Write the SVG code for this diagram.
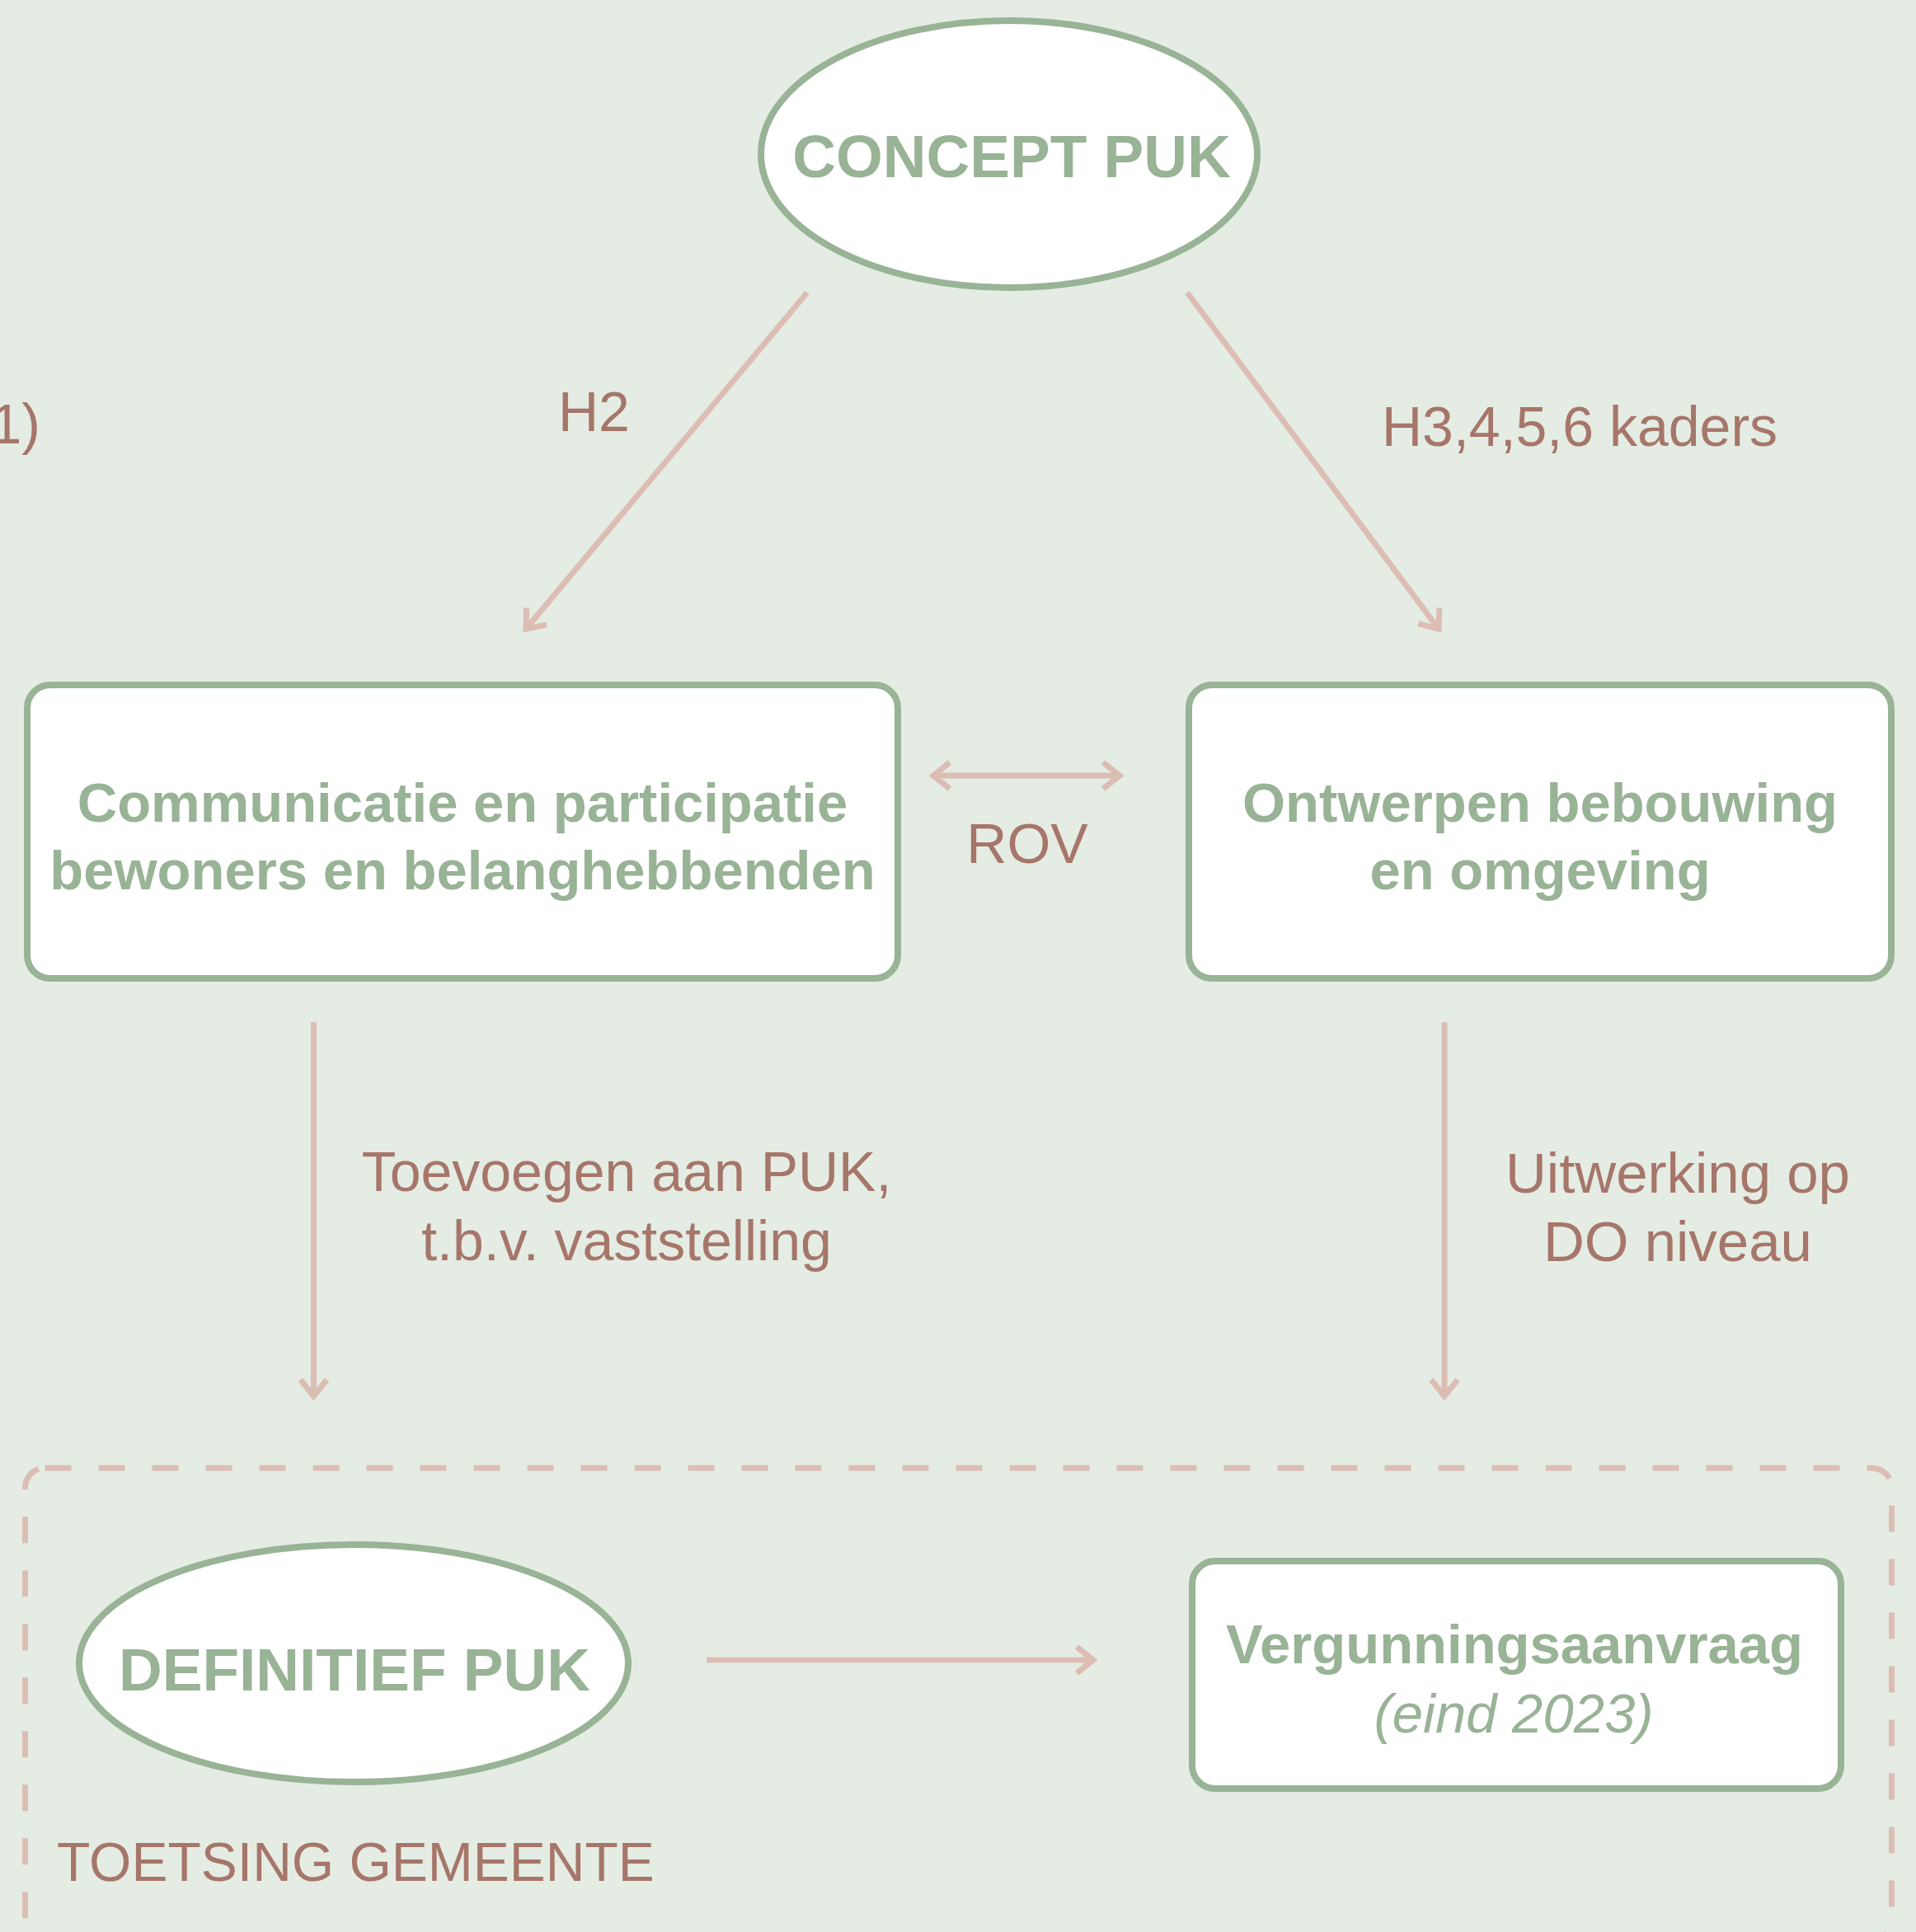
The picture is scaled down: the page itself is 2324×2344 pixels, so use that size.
<svg xmlns="http://www.w3.org/2000/svg" width="2324" height="2344" viewBox="0 0 2324 2344">
  <defs>
    <style>
      .node { fill: #ffffff; stroke: #98b395; stroke-width: 8; }
      .ntext { font-family: "Liberation Sans", Arial, sans-serif; font-weight: bold; fill: #98b395; text-anchor: middle; }
      .ital { font-family: "Liberation Sans", Arial, sans-serif; font-weight: normal; font-style: italic; fill: #98b395; text-anchor: middle; }
      .label { font-family: "Liberation Sans", Arial, sans-serif; font-size: 68px; fill: #a6766a; }
      .conn { fill: none; stroke: #dcbdb4; stroke-width: 7; marker-end: url(#ah); }
    </style>
    <marker id="ah" markerUnits="userSpaceOnUse" markerWidth="60" markerHeight="60" viewBox="-30 -30 60 60" refX="0" refY="0" orient="auto-start-reverse" overflow="visible">
      <path d="M -20 -16 L 0 0 L -20 16" fill="none" stroke="#dcbdb4" stroke-width="7" stroke-linejoin="miter"/>
    </marker>
  </defs>
  <rect x="0" y="0" width="2324" height="2344" fill="#e4ece3"/>

  <g id="group-toetsing">
    <rect x="30.5" y="1781" width="2264" height="572" rx="24" fill="none" stroke="#dcbdb4" stroke-width="7" stroke-dasharray="32 33"/>
    <text class="label" x="69" y="2282" style="font-size:66px">TOETSING GEMEENTE</text>
  </g>

  <g id="connectors">
    <line class="conn" x1="979" y1="355" x2="638" y2="763"/>
    <line class="conn" x1="1440" y1="355" x2="1745" y2="763"/>
    <line class="conn" x1="1132" y1="941" x2="1358" y2="941" marker-start="url(#ah)"/>
    <line class="conn" x1="380.5" y1="1240" x2="380.5" y2="1694"/>
    <line class="conn" x1="1752" y1="1240" x2="1752" y2="1694"/>
    <line class="conn" x1="857" y1="2014" x2="1326" y2="2014"/>
    <text class="label" x="677" y="523">H2</text>
    <text class="label" x="1676" y="541">H3,4,5,6 kaders</text>
    <text class="label" x="1246" y="1047" text-anchor="middle">ROV</text>
    <text class="label" x="760" y="1445" text-anchor="middle">Toevoegen aan PUK,</text>
    <text class="label" x="760" y="1529" text-anchor="middle">t.b.v. vaststelling</text>
    <text class="label" x="2035" y="1447" text-anchor="middle" style="font-size:69px">Uitwerking op</text>
    <text class="label" x="2035" y="1530" text-anchor="middle" style="font-size:69px">DO niveau</text>
  </g>

  <text class="label" x="49" y="538" text-anchor="end">1)</text>

  <g id="node-concept-puk">
    <ellipse class="node" cx="1224" cy="187" rx="301" ry="162"/>
    <text class="ntext" x="1227" y="215" font-size="73">CONCEPT PUK</text>
  </g>

  <g id="node-communicatie">
    <rect class="node" x="33" y="831" width="1056" height="356" rx="28"/>
    <text class="ntext" x="561" y="997" font-size="67">Communicatie en participatie</text>
    <text class="ntext" x="561" y="1079" font-size="67">bewoners en belanghebbenden</text>
  </g>

  <g id="node-ontwerpen">
    <rect class="node" x="1442" y="831" width="852" height="356" rx="28"/>
    <text class="ntext" x="1868" y="997" font-size="67">Ontwerpen bebouwing</text>
    <text class="ntext" x="1868" y="1079" font-size="67">en omgeving</text>
  </g>

  <g id="node-definitief-puk">
    <ellipse class="node" cx="429" cy="2018" rx="333" ry="144"/>
    <text class="ntext" x="430" y="2051" font-size="73">DEFINITIEF PUK</text>
  </g>

  <g id="node-vergunningsaanvraag">
    <rect class="node" x="1446" y="1894" width="787" height="276" rx="28"/>
    <text class="ntext" x="1837" y="2018" font-size="67">Vergunningsaanvraag</text>
    <text class="ital" x="1836" y="2102" font-size="67">(eind 2023)</text>
  </g>
</svg>
